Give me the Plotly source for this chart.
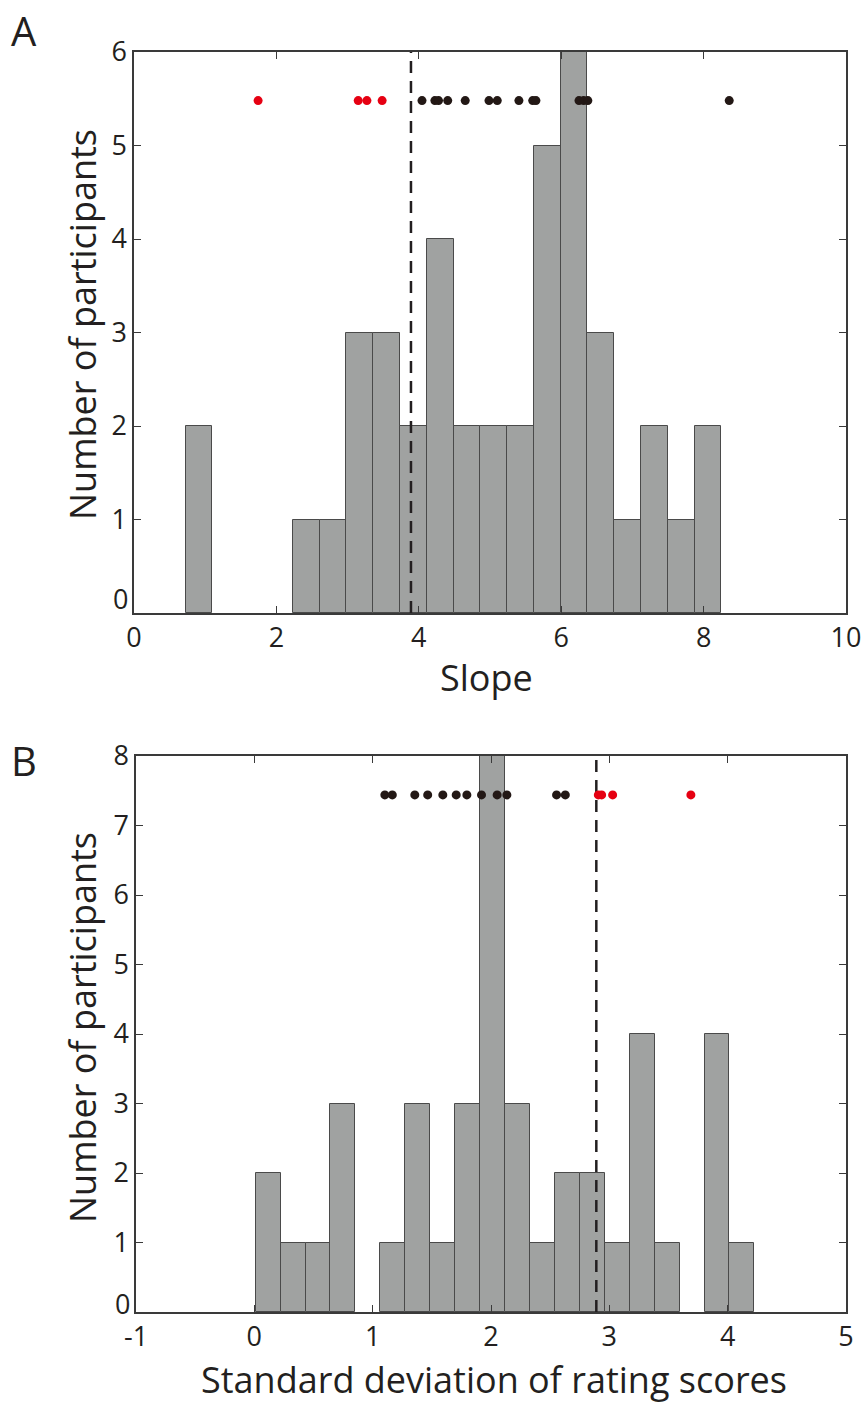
import numpy as np
import plotly.graph_objects as go

# ---- Panel A: slope histogram ----
slope_counts = [2, 0, 0, 0, 1, 1, 3, 3, 2, 4, 2, 2, 2, 5, 6, 3, 1, 2, 1, 2]
slope_bin_range = (0.726, 8.25)
slope_red = [1.743, 3.149, 3.271, 3.485]
slope_black = [4.045, 4.226, 4.277, 4.406, 4.652, 4.986, 5.102, 5.406,
               5.600, 5.645, 6.250, 6.315, 6.374, 8.360]
slope_threshold = 3.89
slope_dot_level = 5.48
slope_xticks = [0, 2, 4, 6, 8, 10]
slope_yticks = [0, 1, 2, 3, 4, 5, 6]

# ---- Panel B: SD of rating scores histogram ----
sd_counts = [2, 1, 1, 3, 0, 1, 3, 1, 3, 8, 3, 1, 2, 2, 1, 4, 1, 0, 4, 1]
sd_bin_range = (0.011, 4.226)
sd_black = [1.103, 1.166, 1.356, 1.465, 1.593, 1.706, 1.796, 1.920,
            2.052, 2.134, 2.554, 2.628]
sd_red = [2.907, 2.935, 3.028, 3.689]
sd_threshold = 2.89
sd_dot_level = 7.44
sd_xticks = [-1, 0, 1, 2, 3, 4, 5]
sd_yticks = [0, 1, 2, 3, 4, 5, 6, 7, 8]

W, H = 863, 1406
TXT = "#231f20"
BAR_FILL = "#a0a2a1"
BAR_EDGE = "#4a4a4a"
RED = "#e60012"
DOT_BLACK = "#231815"
FONT = "Open Sans"


def bin_centers(rng, n):
    edges = np.linspace(rng[0], rng[1], n + 1)
    return (edges[:-1] + edges[1:]) / 2, edges[1] - edges[0]


fig = go.Figure()


def add_panel(counts, rng, red, black, thr, level, xa, ya, ymax):
    centers, width = bin_centers(rng, len(counts))
    # empty bins are left out so no outline is drawn along the baseline
    keep = [i for i, c in enumerate(counts) if c > 0]
    fig.add_trace(go.Bar(x=[centers[i] for i in keep],
                         y=[counts[i] for i in keep], width=width,
                         marker=dict(color=BAR_FILL,
                                     line=dict(color=BAR_EDGE, width=1)),
                         xaxis=xa, yaxis=ya, showlegend=False))
    fig.add_trace(go.Scatter(x=[thr, thr], y=[0, ymax], mode="lines",
                             line=dict(color=TXT, width=2.5, dash="12px,8px"),
                             xaxis=xa, yaxis=ya, showlegend=False))
    fig.add_trace(go.Scatter(x=black, y=[level] * len(black), mode="markers",
                             marker=dict(color=DOT_BLACK, size=9),
                             xaxis=xa, yaxis=ya, showlegend=False))
    fig.add_trace(go.Scatter(x=red, y=[level] * len(red), mode="markers",
                             marker=dict(color=RED, size=9),
                             xaxis=xa, yaxis=ya, showlegend=False))


add_panel(slope_counts, slope_bin_range, slope_red, slope_black,
          slope_threshold, slope_dot_level, "x", "y", 6)
add_panel(sd_counts, sd_bin_range, sd_red, sd_black,
          sd_threshold, sd_dot_level, "x2", "y2", 8)


def px_x(p):
    return p / W


def px_y(p):
    return 1 - p / H


axis_common = dict(showgrid=False, zeroline=False, showline=True,
                   linecolor="#3a3a3a", linewidth=1.5, mirror="ticks",
                   ticks="inside", ticklen=7, tickwidth=1.2,
                   tickcolor="#3a3a3a", automargin=False,
                   tickfont=dict(family=FONT, size=27, color=TXT))

fig.update_layout(
    width=W, height=H,
    margin=dict(l=0, r=0, t=0, b=0),
    paper_bgcolor="white", plot_bgcolor="white",
    bargap=0,
    xaxis=dict(domain=[px_x(134), px_x(846)], range=[0, 10],
               tickvals=slope_xticks, ticktext=[str(v) for v in slope_xticks],
               anchor="y", **axis_common),
    yaxis=dict(domain=[px_y(613), px_y(52)], range=[0, 6],
               tickvals=slope_yticks,
               ticktext=[""] + [str(v) for v in slope_yticks[1:]],
               anchor="x", **axis_common),
    xaxis2=dict(domain=[px_x(136), px_x(846)], range=[-1, 5],
                tickvals=sd_xticks, ticktext=[str(v) for v in sd_xticks],
                anchor="y2", **axis_common),
    yaxis2=dict(domain=[px_y(1312), px_y(756)], range=[0, 8],
                tickvals=sd_yticks,
                ticktext=[""] + [str(v) for v in sd_yticks[1:]],
                anchor="x2", **axis_common),
)

title_font = dict(family=FONT, size=36, color=TXT)
panel_font = dict(family=FONT, size=40, color=TXT)
annotations = [
    dict(text="Slope", x=px_x(486), y=px_y(677), xref="paper", yref="paper",
         showarrow=False, xanchor="center", yanchor="middle", font=title_font),
    dict(text="Number of participants", x=px_x(82), y=px_y(325),
         xref="paper", yref="paper", showarrow=False, textangle=-90,
         xanchor="center", yanchor="middle", font=title_font),
    dict(text="Standard deviation of rating scores", x=px_x(494),
         y=px_y(1379), xref="paper", yref="paper", showarrow=False,
         xanchor="center", yanchor="middle", font=title_font),
    dict(text="Number of participants", x=px_x(82), y=px_y(1028),
         xref="paper", yref="paper", showarrow=False, textangle=-90,
         xanchor="center", yanchor="middle", font=title_font),
    dict(text="A", x=px_x(9), y=px_y(1), xref="paper", yref="paper",
         showarrow=False, xanchor="left", yanchor="top", font=panel_font),
    dict(text="B", x=px_x(9), y=px_y(731), xref="paper", yref="paper",
         showarrow=False, xanchor="left", yanchor="top", font=panel_font),
    # zero labels on the count axes sit slightly above the baseline
    dict(text="0", x=0, y=0, xref="x domain", yref="y", showarrow=False,
         xanchor="right", yanchor="middle", xshift=-4, yshift=15,
         font=dict(family=FONT, size=27, color=TXT)),
    dict(text="0", x=0, y=0, xref="x2 domain", yref="y2", showarrow=False,
         xanchor="right", yanchor="middle", xshift=-4, yshift=9,
         font=dict(family=FONT, size=27, color=TXT)),
]
fig.update_layout(annotations=annotations)

fig.write_html("out.html")
